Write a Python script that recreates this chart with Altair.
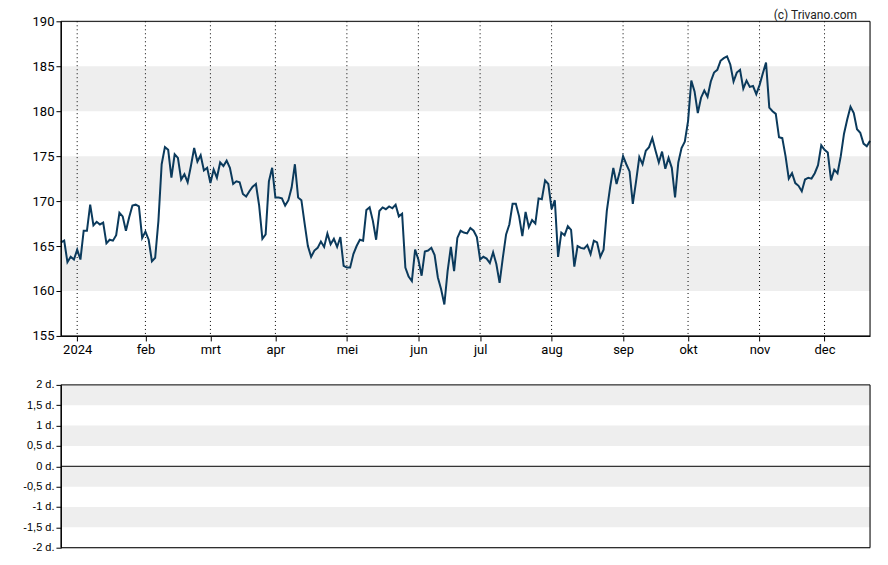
import altair as alt
import pandas as pd

# Closing prices, one per trading day (22 Dec 2023 .. 20 Dec 2024)
prices = [
    165.4, 165.6, 163.2, 163.8, 163.5, 164.6, 163.5, 166.7, 166.7, 169.6,
    167.3, 167.7, 167.4, 167.6, 165.3, 165.7, 165.6, 166.2, 168.7, 168.3,
    166.7, 168.2, 169.5, 169.6, 169.4, 165.9, 166.6, 165.7, 163.3, 163.7,
    167.8, 174.1, 176.0, 175.7, 172.6, 175.2, 174.8, 172.4, 173.0, 172.1,
    173.9, 175.9, 174.4, 175.1, 173.4, 173.7, 172.0, 173.5, 172.6, 174.3,
    173.9, 174.5, 173.7, 171.9, 172.2, 172.1, 170.8, 170.5, 171.1, 171.6,
    171.9, 169.5, 165.8, 166.3, 172.2, 173.7, 170.4, 170.4, 170.3, 169.5,
    170.1, 171.5, 174.1, 170.4, 170.1, 167.5, 165.0, 163.8, 164.5, 164.8,
    165.5, 164.9, 166.4, 165.2, 165.8, 164.9, 166.0, 162.8, 162.6, 162.6,
    164.1, 165.0, 165.7, 165.6, 169.0, 169.3, 167.8, 165.7, 168.9, 169.3,
    169.1, 169.4, 169.2, 169.6, 168.3, 168.6, 162.6, 161.6, 161.1, 164.6,
    163.5, 161.7, 164.4, 164.5, 164.8, 164.0, 161.5, 160.2, 158.5, 162.2,
    164.9, 162.2, 165.9, 166.7, 166.5, 166.4, 167.0, 166.7, 166.0, 163.5,
    163.8, 163.6, 163.1, 164.3, 163.0, 160.9, 163.7, 166.3, 167.4, 169.7,
    169.7, 168.3, 166.1, 168.8, 167.1, 167.9, 167.5, 170.3, 170.2, 172.3,
    171.9, 169.1, 170.1, 163.8, 166.5, 166.2, 167.2, 166.8, 162.7, 165.0,
    164.8, 164.7, 165.1, 164.1, 165.6, 165.4, 163.8, 164.6, 168.9, 171.5,
    173.7, 171.9, 173.3, 175.0, 174.1, 173.3, 169.7, 172.2, 174.9, 174.1,
    175.6, 176.0, 177.0, 175.6, 174.3, 175.5, 173.6, 174.8, 173.7, 170.4,
    174.3, 175.9, 176.6, 178.9, 183.4, 182.2, 179.8, 181.5, 182.3, 181.6,
    183.3, 184.3, 184.6, 185.6, 185.9, 186.1, 185.2, 183.3, 184.3, 184.6,
    182.5, 183.4, 182.7, 182.8, 181.9, 182.9, 184.2, 185.4, 180.4, 180.0,
    179.7, 177.1, 177.0, 175.0, 172.5, 173.1, 172.0, 171.7, 171.1, 172.4,
    172.6, 172.5, 173.1, 174.0, 176.2, 175.7, 175.4, 172.3, 173.5, 173.1,
    175.0, 177.5, 179.1, 180.5, 179.8, 178.0, 177.6, 176.4, 176.1, 176.7,
]

# Month starts (trading-day index) and their labels
month_idx = [5, 26, 46, 66, 88, 110, 129, 151, 173, 193, 215, 235]
month_labels = ["2024", "feb", "mrt", "apr", "mei", "jun", "jul", "aug",
                "sep", "okt", "nov", "dec"]

price_ticks = [155, 160, 165, 170, 175, 180, 185, 190]
price_band_lo = [160, 170, 180]
price_band_hi = [165, 175, 185]

osc_ticks = [-2, -1.5, -1, -0.5, 0, 0.5, 1, 1.5, 2]
osc_band_lo = [1.5, 0.5, -0.5, -1.5]
osc_band_hi = [2, 1, 0, -1]
osc_lines = [0]

credit = ["(c) Trivano.com"]

W = 810
H1 = 315
H2 = 163
N = len(prices)
LINE = "#0b3a5c"
BAND = "#eeeeee"

df = pd.DataFrame({"i": list(range(N)), "p": prices})
df_months = pd.DataFrame({"i": month_idx, "m": month_labels})
df_pb = pd.DataFrame({"lo": price_band_lo, "hi": price_band_hi})
df_ob = pd.DataFrame({"lo": osc_band_lo, "hi": osc_band_hi})
df_zero = pd.DataFrame({"z": osc_lines})
df_credit = pd.DataFrame({"t": credit})
df_one = pd.DataFrame({"k": [1]})

idx_js = "[" + ",".join(str(v) for v in month_idx) + "]"
lab_js = "[" + ",".join("'" + s + "'" for s in month_labels) + "]"
x_label_expr = f"{lab_js}[indexof({idx_js}, datum.value)]"

x_scale = alt.Scale(domain=[0, N - 1], nice=False, zero=False)
x_axis = alt.Axis(values=month_idx, labelExpr=x_label_expr, title=None, grid=False,
                  domainColor="black", tickColor="black", tickSize=5,
                  labelFont="Roboto", labelFontSize=13, labelColor="black",
                  labelPadding=3, labelFlush=False, zindex=1)
y_scale = alt.Scale(domain=[155, 190], nice=False, zero=False)
y_axis = alt.Axis(values=price_ticks, title=None, grid=False, domainColor="black",
                  tickColor="black", tickSize=5, labelFont="Roboto", labelFontSize=13,
                  labelColor="black", labelPadding=2, zindex=1)


def frame(h):
    return alt.Chart(df_one).mark_rect(fill=None, stroke="black", strokeWidth=1).encode(
        x=alt.value(0), x2=alt.value(W), y=alt.value(0), y2=alt.value(h))


bands = alt.Chart(df_pb).mark_rect(color=BAND).encode(
    y=alt.Y("lo:Q", scale=y_scale, axis=y_axis), y2="hi:Q",
    x=alt.value(0), x2=alt.value(W))
rules = alt.Chart(df_months).mark_rule(color="black", strokeWidth=1, strokeDash=[1, 3]).encode(
    x=alt.X("i:Q", scale=x_scale, axis=x_axis))
line = alt.Chart(df).mark_line(color=LINE, strokeWidth=2).encode(
    x=alt.X("i:Q", scale=x_scale, axis=x_axis),
    y=alt.Y("p:Q", scale=y_scale, axis=y_axis))
txt = alt.Chart(df_credit).mark_text(align="right", baseline="middle", font="Roboto",
                                    fontSize=12, color="#222222").encode(
    x=alt.value(797), y=alt.value(-6), text="t:N")

top = alt.layer(bands, rules, line, frame(H1), txt).properties(width=W, height=H1)

o_scale = alt.Scale(domain=[-2, 2], nice=False, zero=False)
o_axis = alt.Axis(values=osc_ticks, title=None, grid=False, domainColor="black",
                  tickColor="black", tickSize=5, labelFont="Liberation Sans",
                  labelFontSize=11, labelColor="black", labelPadding=2, zindex=1,
                  labelExpr="replace(toString(datum.value), '.', ',') + ' d.'")
obands = alt.Chart(df_ob).mark_rect(color=BAND).encode(
    y=alt.Y("lo:Q", scale=o_scale, axis=o_axis), y2="hi:Q",
    x=alt.value(0), x2=alt.value(W))
zero = alt.Chart(df_zero).mark_rule(color="black", strokeWidth=1).encode(
    y=alt.Y("z:Q", scale=o_scale, axis=o_axis), x=alt.value(0), x2=alt.value(W))
bottom = alt.layer(obands, zero, frame(H2)).properties(width=W, height=H2)

chart = alt.vconcat(top, bottom, spacing=20).properties(
    padding={"left": 14, "top": 0, "right": 5, "bottom": 0}
).configure_view(stroke=None).configure(background="white")

chart.save("out.html", embed_options={"renderer": "svg", "actions": False})
